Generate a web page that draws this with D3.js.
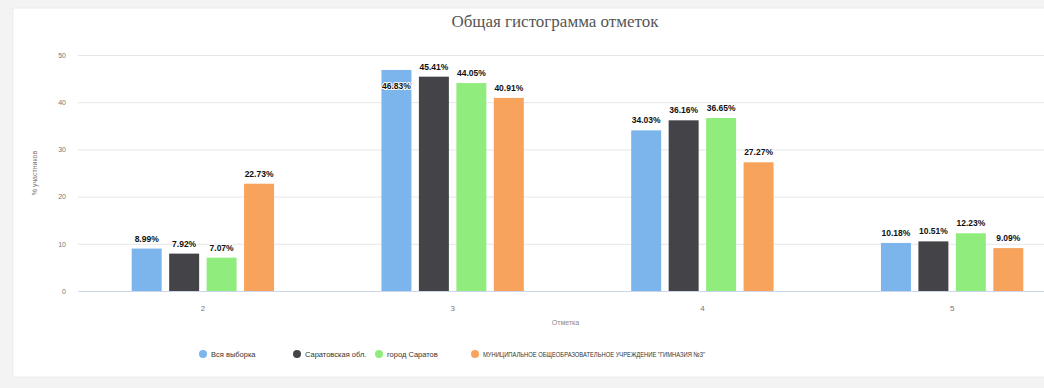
<!DOCTYPE html>
<html><head><meta charset="utf-8">
<script src="https://cdn.jsdelivr.net/npm/d3@7"></script>
<style>
html,body{margin:0;padding:0;background:#f3f3f3;}
svg{display:block;font-family:"Liberation Sans",Arial,sans-serif;}
</style></head>
<body>
<svg id="chart" width="1044" height="388"></svg>
<script>
const categories = ["2", "3", "4", "5"];
const seriesNames = ["Вся выборка", "Саратовская обл.", "город Саратов", "МУНИЦИПАЛЬНОЕ ОБЩЕОБРАЗОВАТЕЛЬНОЕ УЧРЕЖДЕНИЕ \"ГИМНАЗИЯ №3\""];
const allSample = [8.99, 46.83, 34.03, 10.18];
const saratovRegion = [7.92, 45.41, 36.16, 10.51];
const saratovCity = [7.07, 44.05, 36.65, 12.23];
const gymnasium3 = [22.73, 40.91, 27.27, 9.09];
const yTicks = [0, 10, 20, 30, 40, 50];
const colors = ["#7cb5ec", "#434348", "#90ed7d", "#f7a35c"];
const title = "Общая гистограмма отметок";
const yTitle = "% участников";
const xTitle = "Отметка";

const series = [allSample, saratovRegion, saratovCity, gymnasium3];
const svg = d3.select("#chart");

// card
svg.append("rect").attr("x", 13).attr("y", 8).attr("width", 1040).attr("height", 369)
  .attr("fill", "#fff").attr("stroke", "#ececec");

const plotTop = 55, plotBottom = 291, plotLeft = 78, plotRight = 1077;
const y = d3.scaleLinear().domain([0, 50]).range([plotBottom, plotTop]);
const x0 = d3.scaleBand().domain(categories).range([plotLeft, plotRight]).padding(0);
const bw = x0.bandwidth();
const x1 = d3.scaleBand().domain(d3.range(series.length)).range([0.2 * bw, 0.8 * bw])
  .paddingInner(0.2).paddingOuter(0.1);

// title
svg.append("text").attr("x", 555).attr("y", 27).attr("text-anchor", "middle")
  .attr("font-family", "Liberation Serif, serif").attr("font-size", 17).attr("fill", "#555")
  .text(title);

// gridlines
const yAxis = d3.axisLeft(y).tickValues(yTicks).tickSize(-(1044 - plotLeft)).tickPadding(12);
const gy = svg.append("g").attr("transform", `translate(${plotLeft},0)`).call(yAxis);
gy.select(".domain").remove();
gy.selectAll(".tick line").attr("stroke", "#e6e6e6");
gy.selectAll(".tick text").attr("fill", "#777").attr("font-size", 7).attr("font-family", "Liberation Sans, Arial");

// x axis
const xAxis = d3.axisBottom(x0).tickSize(0).tickPadding(14);
const gx = svg.append("g").attr("transform", `translate(0,${plotBottom})`).call(xAxis);
gx.select(".domain").attr("stroke", "#ccd6eb");
gx.selectAll(".tick text").attr("fill", "#777").attr("font-size", 8).attr("font-family", "Liberation Sans, Arial");

// axis titles
svg.append("text").attr("transform", `translate(37,${(plotTop + plotBottom) / 2}) rotate(-90)`)
  .attr("text-anchor", "middle").attr("font-size", 7).attr("fill", "#777").text(yTitle);
svg.append("text").attr("x", (plotLeft + plotRight) / 2 - 12).attr("y", 325).attr("text-anchor", "middle")
  .attr("font-size", 7).attr("fill", "#888").text(xTitle);

// bars
const groups = svg.append("g").selectAll("g").data(categories).join("g")
  .attr("transform", d => `translate(${x0(d)},0)`);
groups.each(function(cat, ci) {
  const g = d3.select(this);
  series.forEach((s, si) => {
    const v = s[ci];
    const bx = x1(si), top = y(v);
    g.append("rect").attr("x", bx).attr("y", top).attr("width", x1.bandwidth())
      .attr("height", plotBottom - top).attr("fill", colors[si]);
  });
  series.forEach((s, si) => {
    const v = s[ci];
    const top = y(v);
    const inside = top - 17 < plotTop;
    const ly = inside ? top + 19 : top - 7;
    g.append("text").attr("x", x1(si) + x1.bandwidth() / 2).attr("y", ly)
      .attr("text-anchor", "middle").attr("font-size", 8.5).attr("font-weight", "bold")
      .attr("fill", "#111").attr("stroke", "#fff").attr("stroke-width", 2)
      .attr("paint-order", "stroke").attr("stroke-linejoin", "round")
      .text(v.toFixed(2) + "%");
  });
});

// legend
const legendX = [203, 297, 379, 475];
const lg = svg.append("g").selectAll("g").data(seriesNames).join("g")
  .attr("transform", (d, i) => `translate(${legendX[i]},354)`);
lg.append("circle").attr("r", 4).attr("fill", (d, i) => colors[i]);
lg.append("text").attr("x", 8).attr("y", 3).attr("font-size", 7.5).attr("fill", "#333")
  .each(function(d, i) {
    if (i === 3) d3.select(this).attr("textLength", 222).attr("lengthAdjust", "spacingAndGlyphs");
  })
  .text(d => d);
</script>
</body></html>
